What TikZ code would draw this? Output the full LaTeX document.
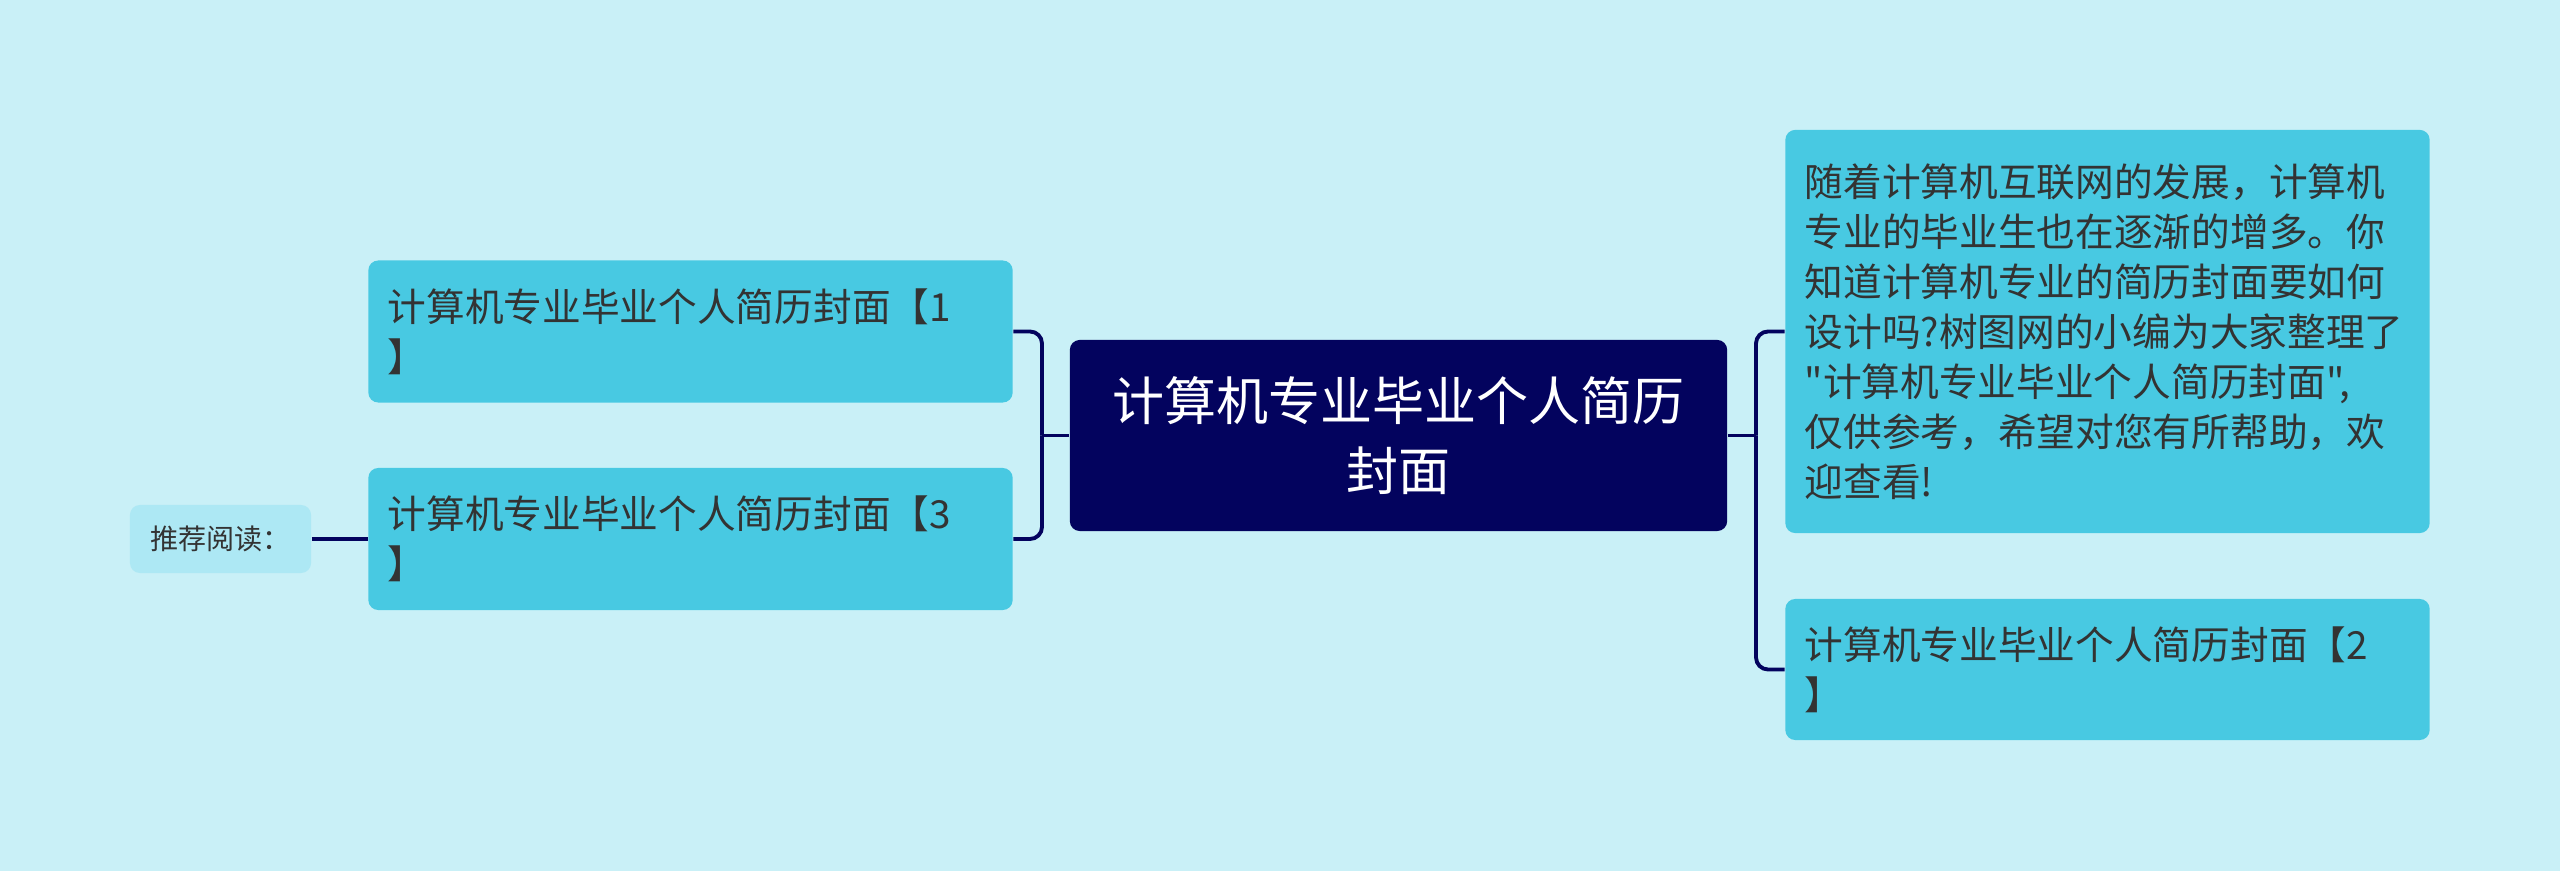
\documentclass[tikz,border=0pt]{standalone}
\usepackage{fontspec}
\setmainfont{Noto Sans CJK SC}[Ligatures=TeXOff]
\usetikzlibrary{calc}
\definecolor{fondo}{HTML}{C9F0F7}
\definecolor{nodoazul}{HTML}{48C9E2}
\definecolor{raizazul}{HTML}{03035E}
\definecolor{recazul}{HTML}{ADE8F4}
\definecolor{texto}{HTML}{333333}

\begin{document}
\begin{tikzpicture}[x=0.01cm, y=-0.01cm,
    hoja/.style={fill=nodoazul, rounded corners=0.1cm, text=texto, align=left, inner sep=0pt,
      text width=6.05cm, minimum width=6.44cm, minimum height=1.42cm, font=\fontsize{11pt}{14.2pt}\selectfont},
    raiz/.style={fill=raizazul, rounded corners=0.1cm, text=white, align=center, inner sep=0pt,
      minimum width=6.57cm, minimum height=1.91cm, font=\fontsize{14.8pt}{19.9pt}\selectfont},
    rec/.style={fill=recazul, rounded corners=0.1cm, text=texto, inner sep=0pt,
      minimum width=1.81cm, minimum height=0.68cm, font=\fontsize{8pt}{10pt}\selectfont},
    enlace/.style={draw=raizazul, line width=1.1pt, rounded corners=0.12cm}]
    \fill[fondo] (0,0) rectangle (2560,871);
    % nodo central
    \node[raiz] (centro) at (1398.5,435.5) {计算机专业毕业个人简历\\封面};
    % lado izquierdo
    \node[hoja] (hoja1) at (690.5,331.5) {计算机专业毕业个人简历封面【1\\】};
    \node[hoja] (hoja3) at (690.5,539) {计算机专业毕业个人简历封面【3\\】};
    \node[rec] (lectura) at (220.5,539) {推荐阅读：};
    % lado derecho
    \node[hoja, minimum height=4.03cm] (desc) at (2107.5,331.5) {随着计算机互联网的发展，计算机\\专业的毕业生也在逐渐的增多。你\\知道计算机专业的简历封面要如何\\设计吗?树图网的小编为大家整理了\\"计算机专业毕业个人简历封面",\\仅供参考，希望对您有所帮助，欢\\迎查看!};
    \node[hoja, minimum height=1.41cm] (hoja2) at (2107.5,669.5) {计算机专业毕业个人简历封面【2\\】};
    % conectores
    \coordinate (izq) at (1042,435.5);
    \coordinate (der) at (1756,435.5);
    \draw[enlace] (centro.west) -- (izq);
    \draw[enlace] (hoja1.east) -| (izq);
    \draw[enlace] (hoja3.east) -| (izq);
    \draw[enlace] (lectura.east) -- (hoja3.west);
    \draw[enlace] (centro.east) -- (der);
    \draw[enlace] (desc.west) -| (der);
    \draw[enlace] (hoja2.west) -| (der);
\end{tikzpicture}
\end{document}
